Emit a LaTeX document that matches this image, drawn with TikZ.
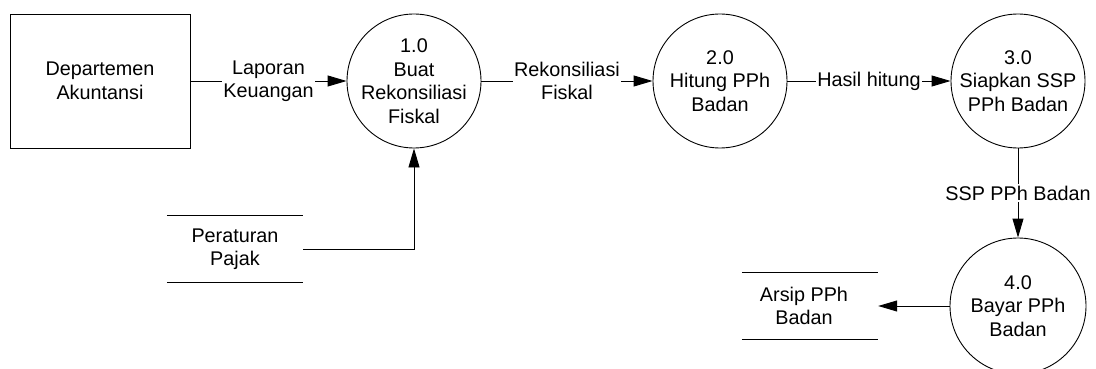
\documentclass[tikz,border=0pt]{standalone}
\usepackage{fontspec}
\setmainfont{Liberation Sans}
\usetikzlibrary{arrows.meta}
\begin{document}
\begin{tikzpicture}[x=1pt,y=-1pt,
  every node/.style={font=\fontsize{19.8}{23.5}\selectfont},
  txt/.style={align=center,inner sep=0pt},
  proc/.style={circle,draw,line width=0.9pt,minimum size=134pt,inner sep=0pt},
  ent/.style={draw,line width=0.9pt,minimum width=180pt,minimum height=134pt,align=center},
  store/.style={minimum width=136pt,minimum height=67pt,align=center,inner sep=0pt},
  lbl/.style={fill=white,align=center,inner sep=1.5pt},
  arr/.style={line width=0.9pt,-{Triangle[length=19pt,width=11pt]}},
  stline/.style={line width=0.9pt}]
\useasboundingbox (0,0) rectangle (1096,369);
\node[ent] (dept) at (100,81) {Departemen\\Akuntansi};
\node[proc,label={[txt]center:{1.0\\Buat\\Rekonsiliasi\\Fiskal}}] (c1) at (414,81) {};
\node[proc,label={[txt]center:{2.0\\Hitung PPh\\Badan}}] (c2) at (720,81) {};
\node[proc,label={[txt]center:{3.0\\Siapkan SSP\\PPh Badan}}] (c3) at (1018,81) {};
\node[proc,minimum size=136pt,label={[txt]center:{4.0\\Bayar PPh\\Badan}}] (c4) at (1018,306) {};
\node[store] (pp) at (235,249) {Peraturan\\Pajak};
\draw[stline] (pp.north west) -- (pp.north east);
\draw[stline] (pp.south west) -- (pp.south east);
\node[store] (ar) at (810,306) {\hspace*{-12pt}Arsip PPh\\\hspace*{-12pt}Badan};
\draw[stline] (ar.north west) -- (ar.north east);
\draw[stline] (ar.south west) -- (ar.south east);
\draw[arr] (dept) -- node[lbl] {Laporan\\Keuangan} (c1);
\draw[arr] (c1) -- node[lbl] {Rekonsiliasi\\Fiskal} (c2);
\draw[arr] (c2) -- node[lbl] {Hasil hitung} (c3);
\draw[arr] (c3) -- node[lbl] {SSP PPh Badan} (c4);
\draw[arr] (pp.east) -| (c1.south);
\draw[arr] (c4) -- (ar.east);
\end{tikzpicture}
\end{document}
